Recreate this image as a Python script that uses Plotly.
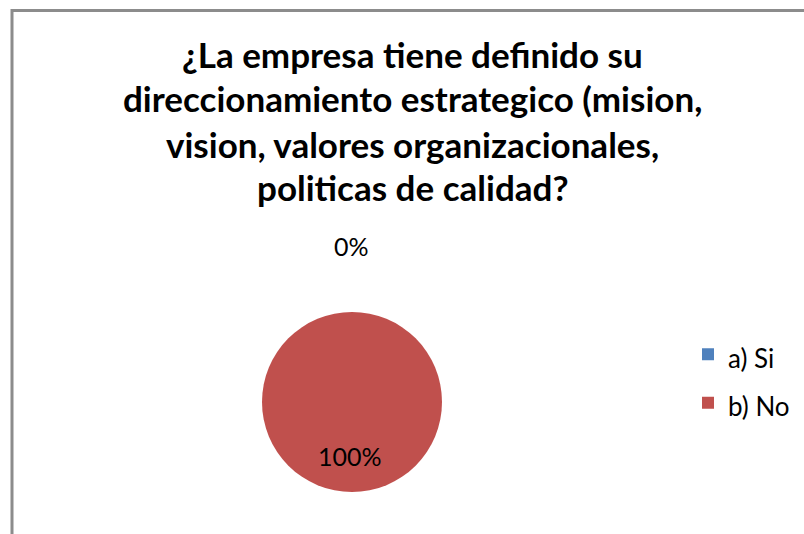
import plotly.graph_objects as go

# Survey answers
categories = ["a) Si", "b) No"]
values = [0, 100]
colors = ["#4F81BD", "#C0504D"]
title_lines = [
    "¿La empresa tiene definido su",
    "direccionamiento estrategico (mision,",
    "vision, valores organizacionales,",
    "politicas de calidad?",
]

W, H = 804, 534
FONT = "Lato"


def px_x(x):
    return x / W


def px_y(y):
    return 1 - y / H


# Pie geometry (pixels)
cx, cy, r = 352, 402, 90

# Legend rows are spaced by the legend font; the visible text is set a bit smaller
legend_labels = [f"<span style='font-size:26px'>{c}</span>" for c in categories]

fig = go.Figure(
    go.Pie(
        labels=legend_labels,
        values=values,
        marker=dict(colors=colors, line=dict(width=0)),
        sort=False,
        direction="clockwise",
        rotation=0,
        textinfo="none",
        hoverinfo="label+percent",
        domain=dict(x=[px_x(cx - r), px_x(cx + r)], y=[px_y(cy + r), px_y(cy - r)]),
        showlegend=True,
    )
)

total = sum(values)
percents = [f"{round(v / total * 100)}%" for v in values]
label_pos = [(351, 246), (350, 456)]

annotations = []
for txt, (lx, ly) in zip(percents, label_pos):
    annotations.append(dict(
        x=px_x(lx), y=px_y(ly), xref="paper", yref="paper",
        text=txt, showarrow=False, xanchor="center", yanchor="middle",
        font=dict(family=FONT, size=25, color="#000000"),
    ))

title_y = [54, 98, 144, 187]
for line, ty in zip(title_lines, title_y):
    annotations.append(dict(
        x=px_x(412), y=px_y(ty), xref="paper", yref="paper",
        text=f"<b>{line}</b>", showarrow=False, xanchor="center", yanchor="middle",
        font=dict(family=FONT, size=35, color="#000000"),
    ))

# Chart-area frame
frame = dict(
    type="path", xref="paper", yref="paper",
    path=f"M {px_x(W + 10)} {px_y(10.5)} L {px_x(12)} {px_y(10.5)} L {px_x(12)} {px_y(H + 10)}",
    line=dict(color="#8C8C8C", width=3),
)

fig.update_layout(
    width=W, height=H,
    margin=dict(l=0, r=0, t=0, b=0),
    paper_bgcolor="white", plot_bgcolor="white",
    annotations=annotations,
    shapes=[frame],
    legend=dict(
        x=px_x(688), y=px_y(325), xanchor="left", yanchor="top",
        font=dict(family=FONT, size=35, color="#000000"),
        bgcolor="rgba(0,0,0,0)", itemwidth=30,
    ),
)

fig.write_html("out.html")
